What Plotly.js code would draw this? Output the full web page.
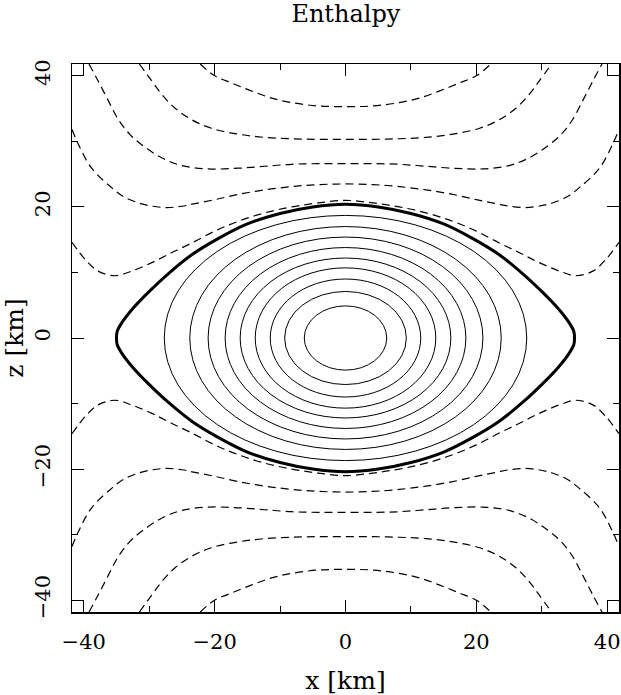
<!DOCTYPE html>
<html>
<head>
<meta charset="utf-8">
<script src="https://cdn.plot.ly/plotly-3.0.1.min.js"></script>
<style>
  body { margin: 0; background: #fff; }
  #plot { width: 621px; height: 695px; }
</style>
</head>
<body>
<div id="plot"></div>
<script>
// enthalpy contours (km)

// inner solid contours: semi-axes along x and z
var ellipseX = [27.7, 23.8, 21.0, 18.4, 16.1, 13.8, 11.5, 9.3, 6.3];
var ellipseZ = [18.7, 17.0, 15.4, 13.8, 12.2, 10.7, 9.0, 7.1, 4.9];

// thick surface contour (closed)
var surfX = [0, -5, -10, -15, -19.4, -23.5, -27.1, -30.1, -32.5, -34.2, -34.9, -35.0,
             -34.9, -34.2, -32.5, -30.1, -27.1, -23.5, -19.4, -15, -10, -5, 0,
             5, 10, 15, 19.4, 23.5, 27.1, 30.1, 32.5, 34.2, 34.9, 35.0,
             34.9, 34.2, 32.5, 30.1, 27.1, 23.5, 19.4, 15, 10, 5, 0];
var surfZ = [20.4, 20.0, 19.0, 17.4, 15.2, 12.7, 9.8, 7.0, 4.5, 2.3, 1.0, 0,
             -1.0, -2.3, -4.5, -7.0, -9.8, -12.7, -15.2, -17.4, -19.0, -20.0, -20.4,
             -20.0, -19.0, -17.4, -15.2, -12.7, -9.8, -7.0, -4.5, -2.3, -1.0, 0,
             1.0, 2.3, 4.5, 7.0, 9.8, 12.7, 15.2, 17.4, 19.0, 20.0, 20.4];

// outer dashed contours, upper half
var aX = [-41.8, -39.8, -37.8, -35.2, -32.7, -29.6, -26.6, -23.5, -20.0, -16.4, -12.3, -8.2, -4.2, 0,
          4.2, 8.2, 12.3, 16.4, 20.0, 23.5, 26.6, 29.6, 32.7, 35.2, 37.8, 39.8, 41.8];
var aZ = [14.6, 12.0, 10.2, 9.5, 10.2, 11.5, 13.0, 14.5, 16.3, 17.8, 19.1, 20.0, 20.6, 21.0,
          20.6, 20.0, 19.1, 17.8, 16.3, 14.5, 13.0, 11.5, 10.2, 9.5, 10.2, 12.0, 14.6];
var bX = [-41.8, -40.8, -38.8, -35.7, -33.8, -31.6, -29.5, -27.3, -25.0, -23.0, -20.0, -16.4, -12.3, -8.2, -4.2, 0,
          4.2, 8.2, 12.3, 16.4, 20.0, 23.0, 25.0, 27.3, 29.5, 31.6, 33.8, 35.7, 38.8, 40.8, 41.8];
var bZ = [31.8, 29.5, 25.9, 22.9, 21.5, 20.6, 20.1, 19.9, 20.1, 20.5, 21.1, 21.9, 22.6, 23.1, 23.4, 23.5,
          23.4, 23.1, 22.6, 21.9, 21.1, 20.5, 20.1, 19.9, 20.1, 20.6, 21.5, 22.9, 25.9, 29.5, 31.8];
var cX = [-31.5, -29.6, -28.1, -26.1, -23.5, -20.5, -16.4, -12.3, -8.2, -4.2, 0,
          4.2, 8.2, 12.3, 16.4, 20.5, 23.5, 26.1, 28.1, 29.6, 31.5];
var cZ = [41.8, 39.2, 37.2, 35.1, 33.3, 32.0, 31.1, 30.6, 30.4, 30.3, 30.3,
          30.3, 30.4, 30.6, 31.1, 32.0, 33.3, 35.1, 37.2, 39.2, 41.8];
var dX = [-39.2, -37.8, -36.2, -34.7, -32.9, -30.9, -28.1, -25.0, -21.0, -16.4, -12.3, -8.2, -4.2, 0,
          4.2, 8.2, 12.3, 16.4, 21.0, 25.0, 28.1, 30.9, 32.9, 34.7, 36.2, 37.8, 39.2];
var dZ = [41.8, 39.2, 36.1, 33.3, 31.0, 29.3, 27.5, 26.3, 25.8, 25.9, 26.2, 26.5, 26.6, 26.6,
          26.6, 26.5, 26.2, 25.9, 25.8, 26.3, 27.5, 29.3, 31.0, 33.3, 36.1, 39.2, 41.8];
var eX = [-22.2, -20.0, -17.4, -14.4, -11.3, -8.2, -4.2, 0, 4.2, 8.2, 11.3, 14.4, 17.4, 20.0, 22.2];
var eZ = [41.8, 40.0, 38.9, 37.7, 36.6, 35.9, 35.4, 35.3, 35.4, 35.9, 36.6, 37.7, 38.9, 40.0, 41.8];

// outer dashed contours, lower half
var aZlow = [-14.6, -12.0, -10.2, -9.5, -10.2, -11.5, -13.0, -14.5, -16.3, -17.8, -19.1, -20.0, -20.6, -21.0,
             -20.6, -20.0, -19.1, -17.8, -16.3, -14.5, -13.0, -11.5, -10.2, -9.5, -10.2, -12.0, -14.6];
var bZlow = [-31.8, -29.5, -25.9, -22.9, -21.5, -20.6, -20.1, -19.9, -20.1, -20.5, -21.1, -21.9, -22.6, -23.1, -23.4, -23.5,
             -23.4, -23.1, -22.6, -21.9, -21.1, -20.5, -20.1, -19.9, -20.1, -20.6, -21.5, -22.9, -25.9, -29.5, -31.8];
var cZlow = [-41.8, -39.2, -37.2, -35.1, -33.3, -32.0, -31.1, -30.6, -30.4, -30.3, -30.3,
             -30.3, -30.4, -30.6, -31.1, -32.0, -33.3, -35.1, -37.2, -39.2, -41.8];
var dZlow = [-41.8, -39.2, -36.1, -33.3, -31.0, -29.3, -27.5, -26.3, -25.8, -25.9, -26.2, -26.5, -26.6, -26.6,
             -26.6, -26.5, -26.2, -25.9, -25.8, -26.3, -27.5, -29.3, -31.0, -33.3, -36.1, -39.2, -41.8];
var eZlow = [-41.8, -40.0, -38.9, -37.7, -36.6, -35.9, -35.4, -35.3, -35.4, -35.9, -36.6, -37.7, -38.9, -40.0, -41.8];

var font = 'DejaVu Serif, Liberation Serif, serif';
var dashed = {color: 'black', width: 1.2, dash: '8px,5px', shape: 'spline', smoothing: 1};

function curve(x, y, line) {
  return {x: x, y: y, type: 'scatter', mode: 'lines', line: line, hoverinfo: 'skip', showlegend: false};
}

var data = [
  curve(aX, aZ, dashed), curve(bX, bZ, dashed), curve(cX, cZ, dashed), curve(dX, dZ, dashed), curve(eX, eZ, dashed),
  curve(aX, aZlow, dashed), curve(bX, bZlow, dashed), curve(cX, cZlow, dashed), curve(dX, dZlow, dashed), curve(eX, eZlow, dashed),
  curve(surfX, surfZ, {color: 'black', width: 3, shape: 'spline', smoothing: 0.6})
];

var shapes = ellipseX.map(function (a, i) {
  return {type: 'circle', xref: 'x', yref: 'y', x0: -a, x1: a, y0: -ellipseZ[i], y1: ellipseZ[i],
          line: {color: 'black', width: 1}};
});

var axis = {
  range: [-41.8, 41.8],
  tick0: 0, dtick: 20,
  ticks: 'inside', ticklen: 12, tickwidth: 1, tickcolor: 'black',
  minor: {dtick: 10, ticks: 'inside', ticklen: 6, tickwidth: 1, tickcolor: 'black'},
  mirror: 'ticks', showline: true, linecolor: 'black', linewidth: 1.5,
  showgrid: false, zeroline: false,
  tickfont: {family: font, size: 21, color: 'black'}
};

var layout = {
  width: 621, height: 695,
  margin: {l: 72, r: 2, t: 64, b: 83},
  paper_bgcolor: 'white', plot_bgcolor: 'white',
  title: {text: 'Enthalpy', font: {family: font, size: 24, color: 'black'},
          x: 0.557, xanchor: 'center', y: 0.981, yanchor: 'middle'},
  xaxis: Object.assign({}, axis, {
    ticklabelstandoff: 10,
    title: {text: 'x [km]', font: {family: font, size: 25, color: 'black'}, standoff: 20}
  }),
  yaxis: Object.assign({}, axis, {
    tickangle: -90, ticklabelstandoff: 12,
    title: {text: 'z [km]', font: {family: font, size: 25, color: 'black'}, standoff: 12}
  }),
  shapes: shapes,
  showlegend: false
};

Plotly.newPlot('plot', data, layout, {staticPlot: true});
</script>
</body>
</html>
